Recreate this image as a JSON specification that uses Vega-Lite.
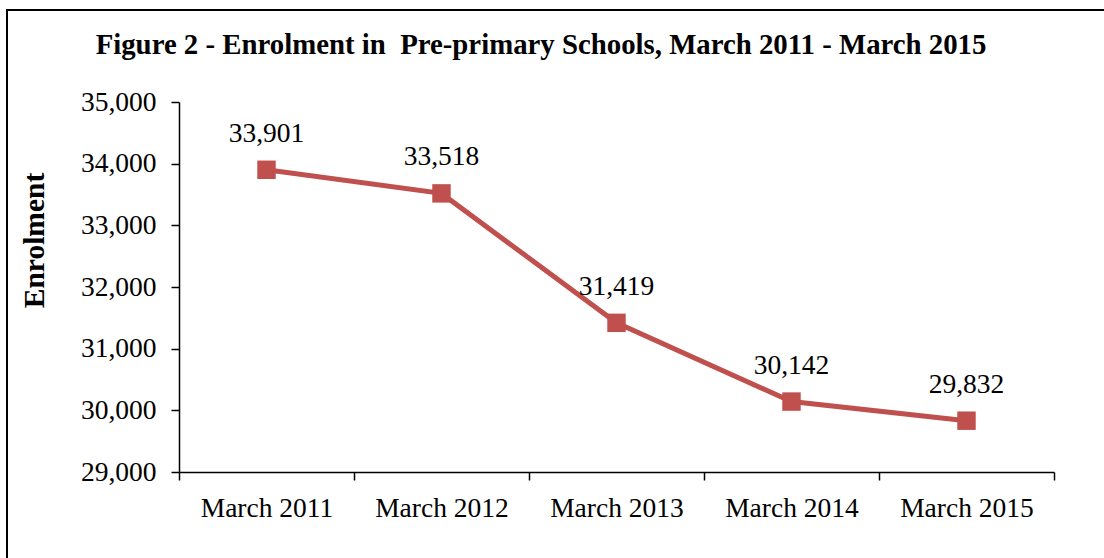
{
  "$schema": "https://vega.github.io/schema/vega-lite/v6.json",
  "width": 1110,
  "height": 560,
  "autosize": {"type": "none"},
  "padding": {"left": 7, "top": 10, "right": 0, "bottom": 0},
  "background": "white",
  "title": {
    "text": "Figure 2 - Enrolment in \u00a0Pre-primary Schools, March 2011 - March 2015",
    "font": "Liberation Serif",
    "fontSize": 28.8,
    "fontWeight": "bold",
    "color": "black",
    "anchor": "middle",
    "frame": "group",
    "offset": -50,
    "dx": -21
  },
  "config": {
    "view": {"stroke": "black", "strokeWidth": 2},
    "font": "Liberation Serif"
  },
  "data": {
    "values": [
      {"period": "March 2011", "enrolment": 33901},
      {"period": "March 2012", "enrolment": 33518},
      {"period": "March 2013", "enrolment": 31419},
      {"period": "March 2014", "enrolment": 30142},
      {"period": "March 2015", "enrolment": 29832}
    ]
  },
  "encoding": {
    "x": {
      "field": "period",
      "type": "nominal",
      "sort": null,
      "scale": {"type": "band", "range": [172, 1047], "paddingInner": 0, "paddingOuter": 0},
      "axis": {
        "orient": "bottom",
        "offset": -98,
        "title": null,
        "labelAngle": 0,
        "tickBand": "extent",
        "tickSize": 8,
        "domainColor": "black",
        "tickColor": "black",
        "domainWidth": 1.5,
        "tickWidth": 1.5,
        "labelFont": "Liberation Serif",
        "labelFontSize": 27.5,
        "labelColor": "black",
        "labelPadding": 14,
        "labelOverlap": false,
        "grid": false
      }
    },
    "y": {
      "field": "enrolment",
      "type": "quantitative",
      "scale": {"domain": [29000, 35000], "range": [462, 92], "nice": false, "zero": false},
      "axis": {
        "orient": "left",
        "offset": -172,
        "values": [29000, 30000, 31000, 32000, 33000, 34000, 35000],
        "format": ",.0f",
        "tickSize": 8,
        "labelPadding": 15,
        "labelFont": "Liberation Serif",
        "labelFontSize": 27.5,
        "labelColor": "black",
        "labelFlush": false,
        "labelOverlap": false,
        "domainColor": "black",
        "tickColor": "black",
        "domainWidth": 1.5,
        "tickWidth": 1.5,
        "grid": false,
        "title": "Enrolment",
        "titleFont": "Liberation Serif",
        "titleFontSize": 29.5,
        "titleFontWeight": "bold",
        "titleColor": "black",
        "titleAngle": -90,
        "titleX": -145,
        "titleY": 230,
        "titleBaseline": "middle",
        "titleAlign": "center"
      }
    }
  },
  "layer": [
    {"mark": {"type": "line", "color": "#C0504D", "strokeWidth": 5}},
    {"mark": {"type": "point", "shape": "square", "filled": true, "size": 340, "color": "#C0504D", "opacity": 1}},
    {
      "mark": {"type": "text", "dy": -28, "baseline": "alphabetic", "fontSize": 27.5, "font": "Liberation Serif", "color": "black"},
      "encoding": {"text": {"field": "enrolment", "type": "quantitative", "format": ",.0f"}}
    }
  ]
}
